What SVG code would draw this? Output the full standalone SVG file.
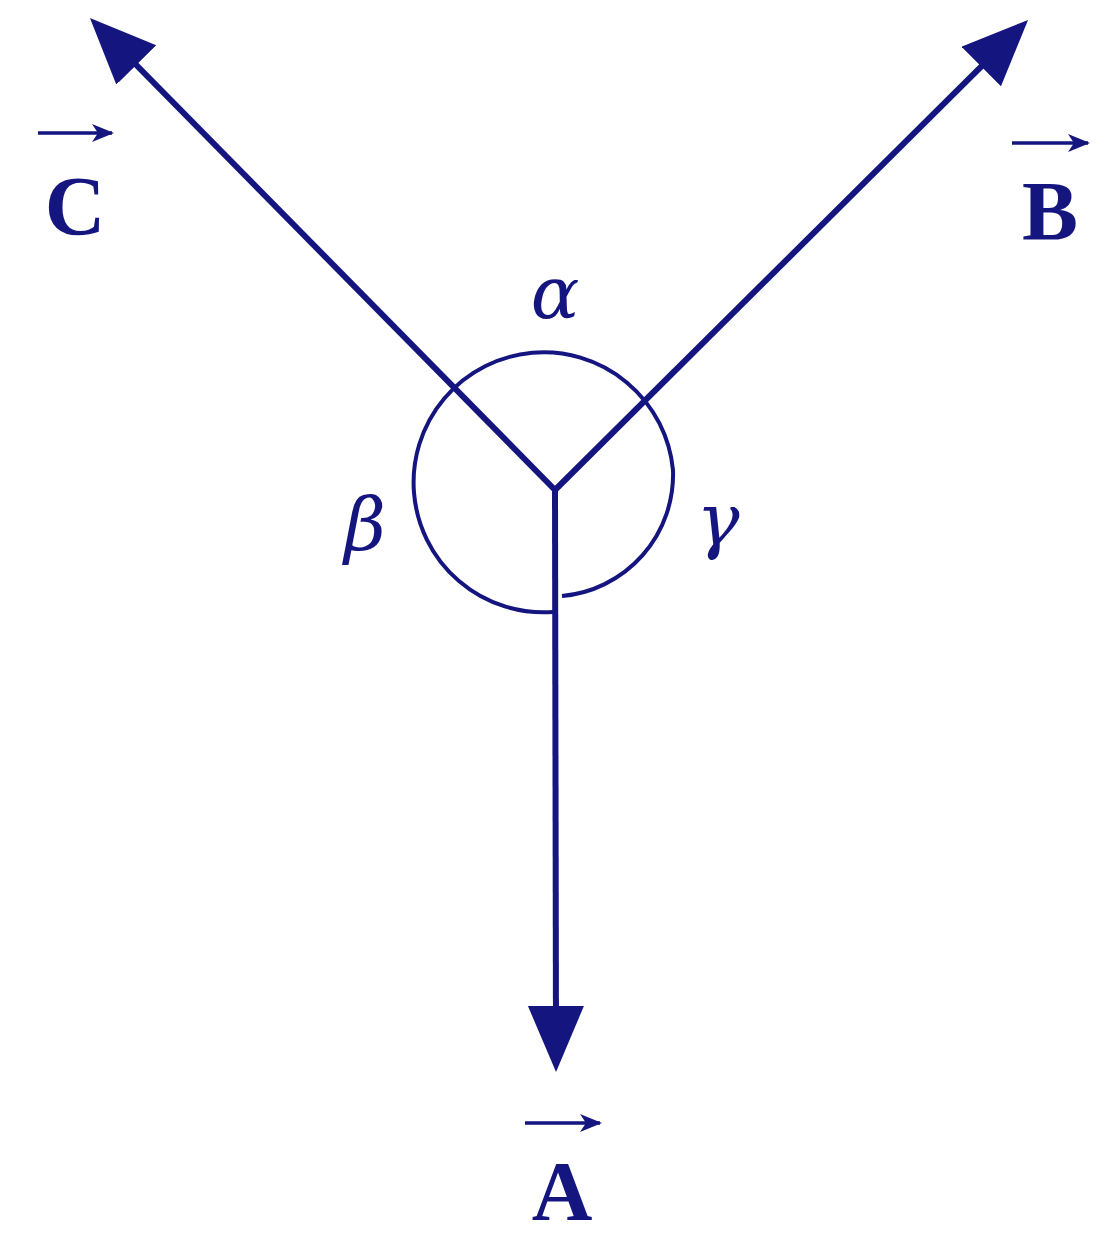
<svg xmlns="http://www.w3.org/2000/svg" width="1113" height="1238" viewBox="0 0 1113 1238">
<style>
.v{stroke:#15157f;stroke-width:6;fill:none;stroke-linecap:butt}
.s{stroke:#15157f;stroke-width:3.5;fill:none}
.t{font-family:"Liberation Serif",serif;fill:#15157f}
.g{font-family:"DejaVu Serif","Liberation Serif",serif;font-style:italic;fill:#15157f}
</style>
<defs>
<marker id="ah" markerUnits="userSpaceOnUse" markerWidth="70" markerHeight="60" refX="40" refY="28" orient="auto" viewBox="0 0 70 60">
<path d="M0,0 L66,28 L0,56 z" fill="#15157f"/>
</marker>
<marker id="sa" markerUnits="userSpaceOnUse" markerWidth="24" markerHeight="20" refX="20" refY="9" orient="auto" viewBox="0 0 24 18">
<path d="M0,0 L22,9 L0,18 L6,9 z" fill="#15157f"/>
</marker>
</defs>
<g id="connectors">
<line class="v" x1="555" y1="490" x2="108.2" y2="36.5" marker-end="url(#ah)"/>
<line class="v" x1="555" y1="490" x2="1009.6" y2="38.3" marker-end="url(#ah)"/>
<line class="v" x1="555" y1="490" x2="556" y2="1046" marker-end="url(#ah)"/>
</g>
<g id="angle">
<path d="M553,612 A130,130 0 1 1 673,470 A122,122 0 0 1 562,596" fill="none" stroke="#15157f" stroke-width="4"/>
</g>
<g id="labels">
<text class="g" x="555" y="318" font-size="72" text-anchor="middle">α</text>
<text class="g" x="365" y="550" font-size="72" text-anchor="middle">β</text>
<text class="g" x="718" y="545" font-size="72" text-anchor="middle">γ</text>
<g id="labelC"><text class="t" x="75" y="235" font-size="84" font-weight="bold" text-anchor="middle">C</text>
<line class="s" x1="38" y1="133" x2="112" y2="133" marker-end="url(#sa)"/></g>
<g id="labelB"><text class="t" x="1050" y="240" font-size="84" font-weight="bold" text-anchor="middle">B</text>
<line class="s" x1="1012" y1="143" x2="1088" y2="143" marker-end="url(#sa)"/></g>
<g id="labelA"><text class="t" x="562" y="1220" font-size="84" font-weight="bold" text-anchor="middle">A</text>
<line class="s" x1="525" y1="1123" x2="600" y2="1123" marker-end="url(#sa)"/></g>
</g>
</svg>
